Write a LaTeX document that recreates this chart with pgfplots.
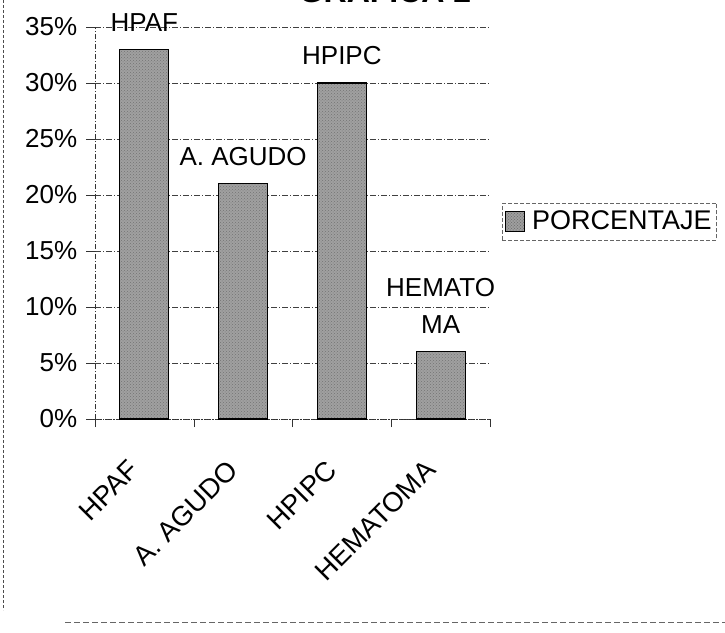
\documentclass[border=0pt]{standalone}
\usepackage{fontspec}
\setmainfont{Liberation Sans}
\usepackage{pgfplots}
\pgfplotsset{compat=1.18}
\usetikzlibrary{patterns}
\definecolor{barfill}{RGB}{160,160,160}
\begin{document}
\fontsize{26}{31}\selectfont
\begin{tikzpicture}
\useasboundingbox (0,0) rectangle (725pt,632pt);
\fill[white] (0,0) rectangle (725pt,632pt);
\draw[black!70, dash pattern=on 3pt off 2pt, line width=0.6pt] (3pt,632pt) -- (3pt,22pt);
\draw[black!60, dash pattern=on 6pt off 3pt, line width=0.6pt] (65pt,10pt) -- (725pt,10pt);
\node[font=\bfseries\fontsize{32}{38}\selectfont, anchor=base] at (385pt,629pt) {GRAFICA 2};
\begin{axis}[
  at={(95pt,213pt)}, anchor=south west,
  scale only axis, width=395pt, height=392pt,
  xmin=-0.5, xmax=3.5, ymin=0, ymax=35,
  axis x line*=bottom, axis y line*=left,
  axis line style={-},
  x axis line style={black!80, densely dotted, line width=0.6pt},
  y axis line style={black!80, dash pattern=on 5pt off 2pt on 1pt off 2pt, line width=0.6pt},
  ytick={0,5,...,35},
  yticklabel={\pgfmathprintnumber{\tick}\%},
  /pgf/number format/assume math mode=true,
  ticklabel style={font=\fontsize{26}{31}\selectfont},
  ymajorgrids,
  grid style={black!75, dash pattern=on 6pt off 2pt on 1pt off 2pt, line width=0.5pt},
  tick align=outside, major tick length=9pt, minor tick length=8pt,
  ytick style={black!80, line width=0.5pt},
  xtick={0,1,2,3},
  xticklabels={HPAF, A. AGUDO, HPIPC, HEMATOMA},
  minor xtick={-0.5,0.5,1.5,2.5,3.5},
  major x tick style={draw=none},
  minor x tick style={black!80, line width=0.5pt},
  xticklabel style={xshift=-4pt, yshift=-31pt, rotate=45, anchor=east, font=\fontsize{27.5}{32}\selectfont},
  legend style={at={(1.0304,0.551)}, anchor=north west, draw=black!60,
    dash pattern=on 4pt off 2pt, font=\fontsize{27}{32}\selectfont,
    inner xsep=3pt, inner ysep=5pt},
]
\addplot[ybar, bar width=49pt, draw=black, line width=1.2pt, fill=barfill,
  postaction={pattern=crosshatch dots, pattern color=black!55},
  legend image code/.code={\draw[solid, draw=black, line width=0.8pt, fill=barfill, postaction={pattern=crosshatch dots, pattern color=black!55}] (0pt,-10pt) rectangle (19pt,10pt);}]
  coordinates {(0,33) (1,21) (2,30) (3,6)};
\addlegendentry{\hspace{5pt}PORCENTAJE}
\addplot[draw=none, mark=none, forget plot, nodes near coords, point meta=explicit symbolic,
  nodes near coords style={anchor=south, inner sep=0pt, yshift=18pt, align=center,
    font=\fontsize{26}{37}\selectfont, text=black}]
  coordinates {(0,33) [HPAF] (1,21) [A. AGUDO] (2,30) [HPIPC] (3,6) [{HEMATO\\MA}]};
\end{axis}
\end{tikzpicture}
\end{document}
